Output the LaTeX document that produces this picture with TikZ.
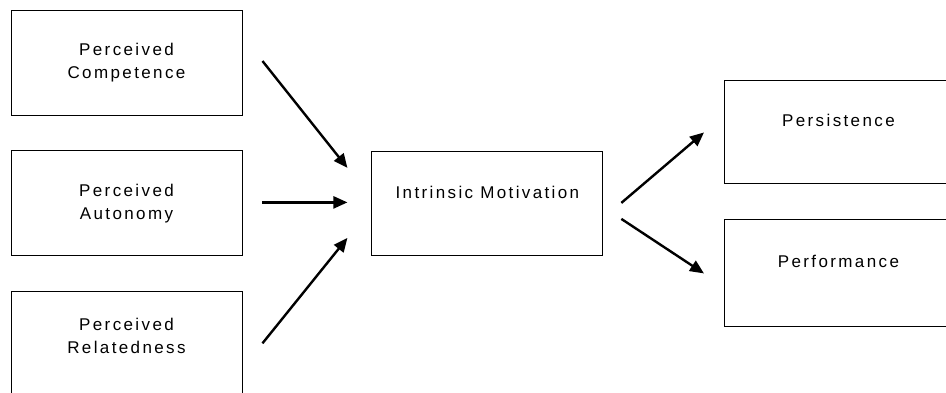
\documentclass[tikz,border=0pt]{standalone}
\usepackage{fontspec}
\setmainfont{Liberation Sans}[LetterSpace=14]
\usepackage{tikz}
\usetikzlibrary{positioning}
\usetikzlibrary{calc}
\usetikzlibrary{arrows.meta}

\tikzstyle{factor} = [
	draw=black,
	line width=0.9pt,
	minimum width=231pt,
	minimum height=105pt,
	align=center,
	font=\fontsize{17}{23}\selectfont
]
\tikzstyle{outcome} = [
	factor,
	minimum width=228pt,
	anchor=north west
]
\tikzstyle{arr} = [
	line width=2.4pt,
	-{Triangle[length=14pt,width=12pt]}
]

\begin{document}
\begin{tikzpicture}[x=1pt, y=-1pt, node distance=35pt and 129pt]
	\clip (0,0) rectangle (946,393);

	% Needs
	\node[factor, text depth=4pt] (comp) at (126.5,62.5) {Perceived\\Competence};
	\node[factor, below=of comp] (auto) {Perceived\\Autonomy};
	\node[factor, minimum height=112pt, below=of auto] (rel) {Perceived\\Relatedness\\~};

	% Motivation
	\node[factor, minimum height=104pt, right=of auto] (intr) {Intrinsic Motivation\\~};

	% Outcomes
	\node[outcome, minimum height=103pt] (pers) at (724,80) {Persistence\\~};
	\node[outcome, minimum height=107pt] (perf) at (724,219) {Performance\\~};

	\draw[arr] ($(comp.east)+(20,-1.5)$) -- ($(intr.west)+(-24,-35.5)$);
	\draw[arr] ($(auto.east)+(20,-1)$) -- ($(intr.west)+(-24,-1)$);
	\draw[arr] ($(rel.north east)+(20,52)$) -- ($(intr.west)+(-24,34.5)$);
	\draw[arr] ($(intr.east)+(18,-0.5)$) -- ($(pers.west)+(-20,0.5)$);
	\draw[arr] ($(intr.east)+(18,15.5)$) -- ($(perf.west)+(-20,0.5)$);

\end{tikzpicture}
\end{document}
